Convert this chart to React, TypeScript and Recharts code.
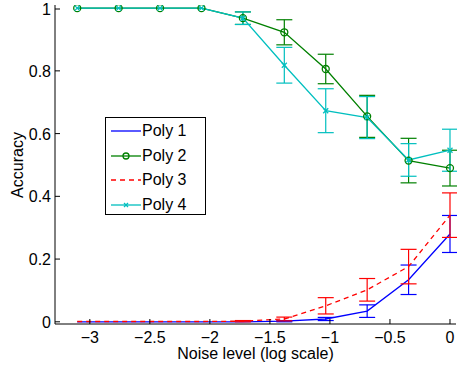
import React from 'react';
import { LineChart, Line, XAxis, YAxis, ErrorBar, Legend } from 'recharts';

const noise = [-3.105, -2.76, -2.415, -2.07, -1.725, -1.38, -1.035, -0.69, -0.345, 0];
const poly1 = [0, 0, 0, 0, 0, 0.002, 0.009, 0.034, 0.134, 0.28];
const poly1Err = [0, 0, 0, 0, 0, 0.002, 0.005, 0.02, 0.047, 0.059];
const poly2 = [1, 1, 1, 1, 0.968, 0.923, 0.806, 0.655, 0.514, 0.49];
const poly2Err = [0, 0, 0, 0, 0.02, 0.04, 0.047, 0.067, 0.071, 0.057];
const poly3 = [0.001, 0.001, 0.001, 0.001, 0.002, 0.009, 0.051, 0.102, 0.176, 0.34];
const poly3Err = [0, 0, 0, 0, 0.002, 0.006, 0.026, 0.036, 0.055, 0.071];
const poly4 = [1, 1, 1, 1, 0.968, 0.818, 0.673, 0.651, 0.516, 0.547];
const poly4Err = [0, 0, 0, 0, 0.02, 0.057, 0.07, 0.067, 0.052, 0.067];

const xTicks = [-3, -2.5, -2, -1.5, -1, -0.5, 0];
const yTicks = [0, 0.2, 0.4, 0.6, 0.8, 1];

const series = [
    { key: 'p1', name: 'Poly 1', color: '#0000ff', dash: undefined, marker: 'none' },
    { key: 'p2', name: 'Poly 2', color: '#008000', dash: undefined, marker: 'circle' },
    { key: 'p3', name: 'Poly 3', color: '#ff0000', dash: '5 4', marker: 'none' },
    { key: 'p4', name: 'Poly 4', color: '#00bfbf', dash: undefined, marker: 'x' },
];

const data = noise.map((x, i) => ({
    x,
    p1: poly1[i], e1: poly1Err[i],
    p2: poly2[i], e2: poly2Err[i],
    p3: poly3[i], e3: poly3Err[i],
    p4: poly4[i], e4: poly4Err[i],
}));

const FONT = '"Liberation Sans", Arial, Helvetica, sans-serif';
const X_DOMAIN = [-3.29, 0.05];
const Y_DOMAIN = [-0.007, 1.01];

const fmt = (v: number) => String(v).replace('-', '\u2212');

const BottomTick = (props: any) => {
    const { x, y, payload } = props;
    return (
        <g>
            <line x1={x} y1={y} x2={x} y2={y - 5} stroke="#000" />
            <text x={x} y={y + 19} textAnchor="middle" fontSize={16} fontFamily={FONT} fill="#000">
                {fmt(payload.value)}
            </text>
        </g>
    );
};

const TopTick = (props: any) => {
    const { x, y } = props;
    return <line x1={x} y1={y} x2={x} y2={y + 5} stroke="#000" />;
};

const LeftTick = (props: any) => {
    const { x, y, payload } = props;
    return (
        <g>
            <line x1={x} y1={y} x2={x + 5} y2={y} stroke="#000" />
            <text x={x - 4} y={y + 6} textAnchor="end" fontSize={16} fontFamily={FONT} fill="#000">
                {payload.value}
            </text>
        </g>
    );
};

const RightTick = (props: any) => {
    const { x, y } = props;
    return <line x1={x} y1={y} x2={x - 5} y2={y} stroke="#000" />;
};

const CircleDot = (props: any) => {
    const { cx, cy, stroke } = props;
    return <circle key={`c${cx}`} cx={cx} cy={cy} r={3.5} fill="none" stroke={stroke} strokeWidth={1.3} />;
};

const CrossDot = (props: any) => {
    const { cx, cy, stroke } = props;
    const s = 2.5;
    return (
        <g key={`x${cx}`}>
            <line x1={cx - s} y1={cy - s} x2={cx + s} y2={cy + s} stroke={stroke} strokeWidth={1.3} />
            <line x1={cx - s} y1={cy + s} x2={cx + s} y2={cy - s} stroke={stroke} strokeWidth={1.3} />
        </g>
    );
};

const LegendBox = () => (
    <div
        style={{
            border: '1px solid #000',
            background: '#fff',
            width: 101,
            height: 98,
            boxSizing: 'border-box',
            paddingTop: 1,
            fontFamily: FONT,
            fontSize: 16,
        }}
    >
        {series.map((s) => (
            <div key={s.key} style={{ display: 'flex', alignItems: 'center', height: 24.5 }}>
                <svg width={33} height={12} style={{ marginLeft: 3 }}>
                    <line x1={2} y1={6} x2={32} y2={6} stroke={s.color} strokeWidth={1.3} strokeDasharray={s.dash} />
                    {s.marker === 'circle' && <circle cx={17} cy={6} r={3} fill="none" stroke={s.color} strokeWidth={1.3} />}
                    {s.marker === 'x' && (
                        <g>
                            <line x1={15} y1={4} x2={19} y2={8} stroke={s.color} strokeWidth={1.3} />
                            <line x1={15} y1={8} x2={19} y2={4} stroke={s.color} strokeWidth={1.3} />
                        </g>
                    )}
                </svg>
                <span>{s.name}</span>
            </div>
        ))}
    </div>
);

const errKeys: Record<string, string> = { p1: 'e1', p2: 'e2', p3: 'e3', p4: 'e4' };

export default function App() {
    return (
        <div style={{ position: 'absolute', left: 0, top: 0, background: '#fff' }}>
            <LineChart width={457} height={369} data={data} margin={{ top: 5, right: 1, bottom: 0, left: 0 }}>
                <XAxis
                    dataKey="x"
                    type="number"
                    domain={X_DOMAIN}
                    ticks={xTicks}
                    tickSize={0}
                    tickMargin={0}
                    tickLine={false}
                    tick={<BottomTick />}
                    height={45}
                    stroke="#000"
                    allowDataOverflow
                    label={(p: any) => {
                        const vb = p.viewBox;
                        return (
                            <text x={vb.x + vb.width / 2} y={359} textAnchor="middle" fontSize={16} fontFamily={FONT} fill="#000">
                                Noise level (log scale)
                            </text>
                        );
                    }}
                />
                <XAxis
                    xAxisId="top"
                    dataKey="x"
                    type="number"
                    orientation="top"
                    domain={X_DOMAIN}
                    ticks={xTicks}
                    tickSize={0}
                    tickLine={false}
                    tick={<TopTick />}
                    height={0}
                    stroke="#000"
                    allowDataOverflow
                />
                <YAxis
                    type="number"
                    domain={Y_DOMAIN}
                    ticks={yTicks}
                    tickSize={0}
                    tickMargin={0}
                    tickLine={false}
                    tick={<LeftTick />}
                    width={55}
                    stroke="#000"
                    allowDataOverflow
                    label={() => (
                        <text
                            x={0}
                            y={0}
                            transform="translate(23,165) rotate(-90)"
                            textAnchor="middle"
                            fontSize={16}
                            fontFamily={FONT}
                            fill="#000"
                        >
                            Accuracy
                        </text>
                    )}
                />
                <YAxis
                    yAxisId="right"
                    orientation="right"
                    type="number"
                    domain={Y_DOMAIN}
                    ticks={yTicks}
                    tickSize={0}
                    tickLine={false}
                    tick={<RightTick />}
                    width={0}
                    stroke="#000"
                    allowDataOverflow
                />
                <Legend
                    layout="horizontal"
                    verticalAlign="middle"
                    align="center"
                    wrapperStyle={{ left: 105, top: 117, width: 'auto' }}
                    content={() => <LegendBox />}
                />
                {series.map((s) => (
                    <Line
                        key={s.key}
                        dataKey={s.key}
                        name={s.name}
                        type="linear"
                        stroke={s.color}
                        strokeWidth={1.3}
                        strokeDasharray={s.dash}
                        dot={s.marker === 'circle' ? <CircleDot /> : s.marker === 'x' ? <CrossDot /> : false}
                        activeDot={false}
                        isAnimationActive={false}
                    >
                        <ErrorBar
                            dataKey={errKeys[s.key]}
                            direction="y"
                            width={8}
                            stroke={s.color}
                            strokeWidth={1.2}
                            isAnimationActive={false}
                        />
                    </Line>
                ))}
            </LineChart>
        </div>
    );
}
